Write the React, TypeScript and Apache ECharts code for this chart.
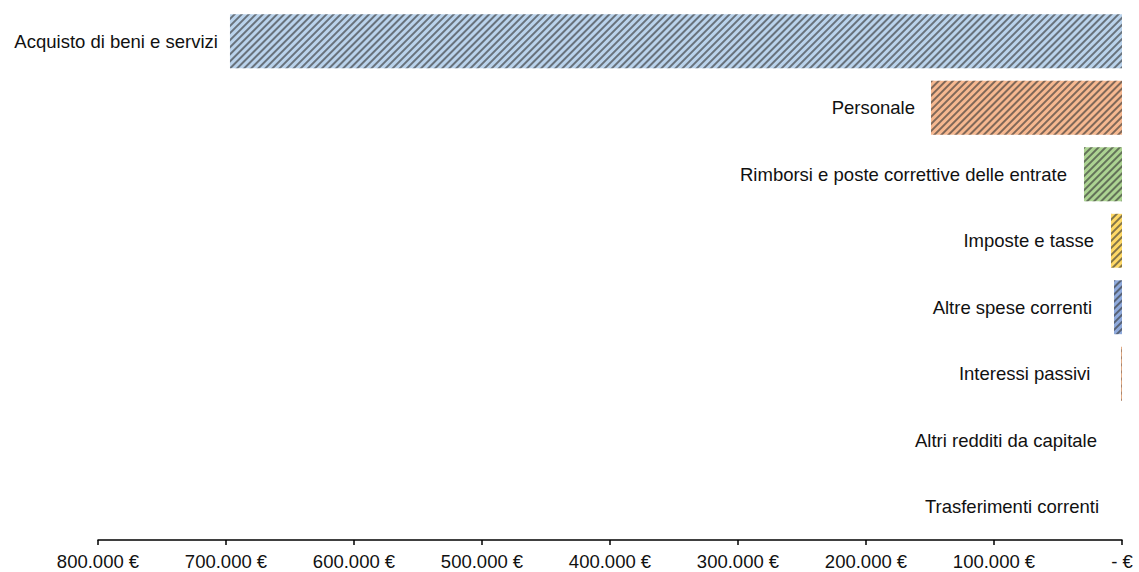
import React, { useEffect, useRef } from "react";
import * as echarts from "echarts";

const categories = [
  "Acquisto di beni e servizi",
  "Personale",
  "Rimborsi e poste correttive delle entrate",
  "Imposte e tasse",
  "Altre spese correnti",
  "Interessi passivi",
  "Altri redditi da capitale",
  "Trasferimenti correnti",
];
const values = [696900, 149200, 29700, 8600, 6250, 400, 0, 0];
const palette = ["#bad3ec", "#f6b890", "#acd392", "#ffd966", "#8faadc", "#c55a11", "#a5a5a5", "#5b9bd5"];
const labelGap = [12, 16, 17, 17, 22, 31, 25, 23];
const axisMax = 800000;
const axisStep = 100000;

function fmt(v: number): string {
  if (v === 0) return "- €";
  return v.toLocaleString("de-DE") + " €";
}

export default function App() {
  const ref = useRef<HTMLDivElement>(null);
  useEffect(() => {
    if (!ref.current) return;
    const chart = echarts.init(ref.current, undefined, { renderer: "svg" });
    const font = "Liberation Sans, Arial, sans-serif";
    chart.setOption({
      animation: false,
      grid: { left: 98, right: 17, top: 8, bottom: 32, containLabel: false },
      xAxis: {
        type: "value",
        min: 0,
        max: axisMax,
        interval: axisStep,
        inverse: true,
        splitLine: { show: false },
        axisLine: { show: true, lineStyle: { color: "#000", width: 1.5 } },
        axisTick: { show: true, length: 5, lineStyle: { color: "#000", width: 1.5 } },
        axisLabel: {
          formatter: (v: number) => fmt(v),
          color: "#111",
          fontSize: 18.5,
          fontFamily: font,
          margin: 12,
          showMaxLabel: true,
          showMinLabel: true,
        },
      },
      yAxis: {
        type: "category",
        data: categories,
        inverse: true,
        axisLine: { show: false },
        axisTick: { show: false },
        axisLabel: { show: false },
      },
      series: [
        {
          type: "bar",
          barCategoryGap: "19%",
          data: values.map((v, i) => ({
            value: v,
            itemStyle: {
              color: palette[i],
              decal: {
                symbol: "rect",
                symbolSize: 1,
                color: "rgba(50,50,50,0.6)",
                dashArrayX: [1, 0],
                dashArrayY: [1.8, 2.4],
                rotation: -Math.PI / 4,
              },
            },
            label: { distance: labelGap[i] },
          })),
          label: {
            show: true,
            position: "left",
            formatter: (p: any) => categories[p.dataIndex],
            color: "#111",
            fontSize: 18.5,
            fontFamily: font,
          },
        },
      ],
    });
    return () => chart.dispose();
  }, []);
  return (
    <div
      ref={ref}
      style={{ position: "fixed", left: 0, top: 0, width: 1139, height: 572, background: "#fff" }}
    />
  );
}
